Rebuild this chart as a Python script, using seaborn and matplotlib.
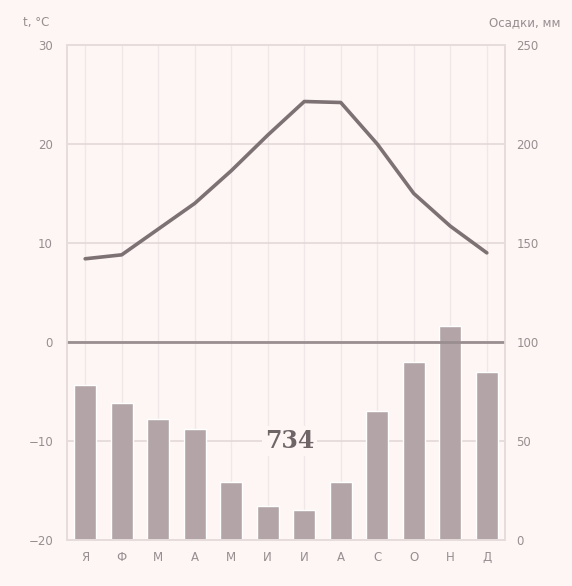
import numpy as np
import pandas as pd
import seaborn as sns
import matplotlib.pyplot as plt

# Климатограмма: температура (линия) и осадки (столбики)
months = ["Я", "Ф", "М", "А", "М", "И", "И", "А", "С", "О", "Н", "Д"]
temp = [8.4, 8.8, 11.4, 14.0, 17.3, 20.9, 24.3, 24.2, 20.0, 15.0, 11.7, 9.0]
precip = [78, 69, 61, 56, 29, 17, 15, 29, 65, 90, 108, 85]
total_label = "734"

temp_ticks = [-20, -10, 0, 10, 20, 30]
precip_ticks = [0, 50, 100, 150, 200, 250]

sns.set_theme(style="white")
plt.rcParams['font.family'] = ['DejaVu Sans']

bg = "#fdf6f5"
fig = plt.figure(figsize=(5.72, 5.86), dpi=100, facecolor=bg)
ax = fig.add_axes([0.117, 0.079, 0.766, 0.844], facecolor=bg)

df = pd.DataFrame({"month": range(12), "precip": precip, "temp": temp})

# осадки — основная ось (шкала справа)
sns.barplot(data=df, x="month", y="precip", color="#b3a5a7", width=0.6,
            saturation=1, ax=ax, zorder=2)
ax.set_ylim(0, 250)
ax.set_yticks(precip_ticks)
ax.set_xlim(-0.5, 11.5)
ax.set_xticks(range(12))
ax.set_xticklabels(months)
ax.set_xlabel("")
ax.set_ylabel("")
ax.grid(axis="y", color="#e2d8d8", lw=1.2, zorder=0)
ax.grid(axis="x", color="#f0e8e8", lw=1.0, zorder=0)

# температура — вторая ось (шкала слева)
ax2 = ax.twinx()
sns.lineplot(data=df, x="month", y="temp", color="#7d7173", lw=2.6, ax=ax2,
             zorder=3)
ax2.set_ylim(-20, 30)
ax2.set_yticks(temp_ticks)
ax2.set_ylabel("")
ax2.axhline(0, color="#9a8e90", lw=2.0, zorder=2)

# поменять стороны шкал
ax.yaxis.tick_right()
ax.yaxis.set_label_position("right")
ax2.yaxis.tick_left()
ax2.yaxis.set_label_position("left")
ax.tick_params(axis="both", length=0, colors="#968e8f", labelsize=8.5, pad=8)
ax2.tick_params(axis="y", length=0, colors="#968e8f", labelsize=8.5, pad=10)

for a in (ax, ax2):
    for s in a.spines.values():
        s.set_color("#e6dcdc")

ax2.text(5.6, -10, total_label, ha="center", va="center", fontsize=17,
         color="#6f6567", fontweight="bold", family="DejaVu Serif",
         bbox=dict(facecolor=bg, edgecolor="none", pad=2), zorder=4)

fig.text(0.04, 0.955, "t, °C", fontsize=8.5, color="#968e8f")
fig.text(0.98, 0.955, "Осадки, мм", fontsize=8.5, color="#968e8f", ha="right")

fig.savefig("out.png", dpi=100, facecolor=bg)
